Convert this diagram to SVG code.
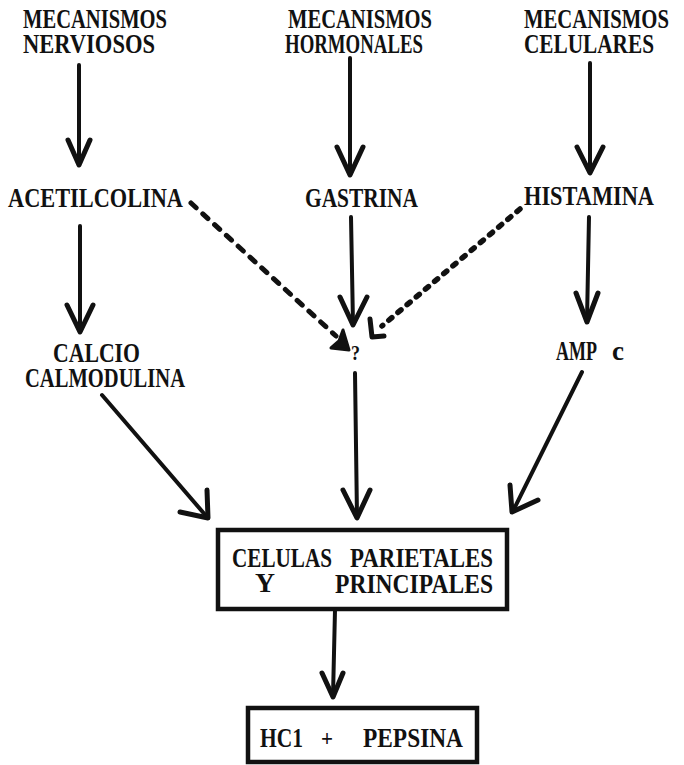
<svg xmlns="http://www.w3.org/2000/svg" width="684" height="765" viewBox="0 0 684 765">
<defs>
<style>
text{font-family:"Liberation Serif","Times New Roman",serif;font-weight:bold;font-size:21.5px;fill:#111;}
.ln{stroke:#111;stroke-width:4;fill:none;stroke-linecap:round;stroke-linejoin:round;}
.hd{stroke:#111;stroke-width:5;fill:none;stroke-linecap:round;stroke-linejoin:round;}
.ds{stroke:#111;stroke-width:5;fill:none;stroke-linecap:round;stroke-dasharray:7 9;}
.ds2{stroke:#111;stroke-width:5.5;fill:none;stroke-linecap:round;stroke-dasharray:4 8;}
.box{stroke:#111;stroke-width:4.5;fill:#fff;}
</style>
</defs>
<rect width="684" height="765" fill="#fff"/>
<g id="connectors">
<path class="ln" d="M79,65 V164"/><path class="hd" d="M68,140 L79,165 L90,140"/>
<path class="ln" d="M350,58 V174"/><path class="hd" d="M337,147 L350,175 L363,147"/>
<path class="ln" d="M590,63 V172"/><path class="hd" d="M577,147 L590,173 L603,147"/>
<path class="ln" d="M80,226 V331"/><path class="hd" d="M67,305 L80,332 L93,305"/>
<path class="ln" d="M351,217 L353,324"/><path class="hd" d="M340,297 L353,325 L367,297"/>
<path class="ln" d="M589,217 L587,321"/><path class="hd" d="M576,293 L587,322 L598,293"/>
<path class="ds" d="M191,203 L336,336"/><path d="M349,350 L331,348 L339,341 L343,330 Z" fill="#111" stroke="#111" stroke-width="3" stroke-linejoin="round"/>
<path class="ds2" d="M520,209 L382,326"/><path class="hd" d="M370,319 L372,337 L384,336"/>
<path class="ln" d="M102,395 L207,517"/><path class="hd" d="M207,490 L208,518 L180,512"/>
<path class="ln" d="M355,373 L357,517"/><path class="hd" d="M343,490 L357,518 L370,490"/>
<path class="ln" d="M582,372 L513,511"/><path class="hd" d="M510,485 L512,512 L538,500"/>
<path class="ln" d="M335,610 L333,696"/><path class="hd" d="M322,673 L333,697 L343,673"/>
</g>
<g id="n-nerviosos">
<text transform="translate(23 28) scale(1 1.28)" textLength="144" lengthAdjust="spacingAndGlyphs">MECANISMOS</text>
<text transform="translate(23 53) scale(1 1.28)" textLength="132" lengthAdjust="spacingAndGlyphs">NERVIOSOS</text>
</g>
<g id="n-hormonales">
<text transform="translate(288 28) scale(1 1.28)" textLength="144" lengthAdjust="spacingAndGlyphs">MECANISMOS</text>
<text transform="translate(285 53) scale(1 1.28)" textLength="138" lengthAdjust="spacingAndGlyphs">HORMONALES</text>
</g>
<g id="n-celulares">
<text transform="translate(524 28) scale(1 1.28)" textLength="145" lengthAdjust="spacingAndGlyphs">MECANISMOS</text>
<text transform="translate(524 53) scale(1 1.28)" textLength="130" lengthAdjust="spacingAndGlyphs">CELULARES</text>
</g>
<g id="n-acetilcolina">
<text transform="translate(8 207) scale(1 1.28)" textLength="175" lengthAdjust="spacingAndGlyphs">ACETILCOLINA</text>
</g>
<g id="n-gastrina">
<text transform="translate(305 207) scale(1 1.28)" textLength="113" lengthAdjust="spacingAndGlyphs">GASTRINA</text>
</g>
<g id="n-histamina">
<text transform="translate(524 205) scale(1 1.28)" textLength="130" lengthAdjust="spacingAndGlyphs">HISTAMINA</text>
</g>
<g id="n-calcio">
<text transform="translate(53 362) scale(1 1.28)" textLength="87" lengthAdjust="spacingAndGlyphs">CALCIO</text>
<text transform="translate(25 387) scale(1 1.28)" textLength="160" lengthAdjust="spacingAndGlyphs">CALMODULINA</text>
</g>
<g id="n-q">
<text transform="translate(351 360) scale(1 1.28)" style="font-size:17px" textLength="9" lengthAdjust="spacingAndGlyphs">?</text>
</g>
<g id="n-amp">
<text transform="translate(556 360) scale(1 1.28)" textLength="41" lengthAdjust="spacingAndGlyphs">AMP</text>
<text transform="translate(612 360) scale(1 1.28)" textLength="12" lengthAdjust="spacingAndGlyphs">c</text>
</g>
<g id="n-celulas">
<rect class="box" x="218" y="530" width="289" height="79"/>
<text transform="translate(232 567) scale(1 1.28)" textLength="100" lengthAdjust="spacingAndGlyphs">CELULAS</text>
<text transform="translate(350 567) scale(1 1.28)" textLength="143" lengthAdjust="spacingAndGlyphs">PARIETALES</text>
<text transform="translate(255 592) scale(1 1.28)" textLength="20" lengthAdjust="spacingAndGlyphs">Y</text>
<text transform="translate(335 593) scale(1 1.28)" textLength="158" lengthAdjust="spacingAndGlyphs">PRINCIPALES</text>
</g>
<g id="n-hcl">
<rect class="box" x="248" y="708" width="229" height="54"/>
<text transform="translate(260 747) scale(1 1.28)" textLength="43" lengthAdjust="spacingAndGlyphs">HC1</text>
<text transform="translate(321 746) scale(1 1.1)" textLength="12" lengthAdjust="spacingAndGlyphs">+</text>
<text transform="translate(363 747) scale(1 1.28)" textLength="100" lengthAdjust="spacingAndGlyphs">PEPSINA</text>
</g>
</svg>
